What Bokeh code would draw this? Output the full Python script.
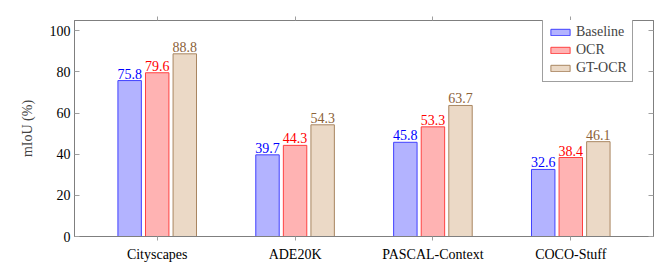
import numpy as np
from bokeh.plotting import figure
from bokeh.models import ColumnDataSource, Range1d, FixedTicker, LinearAxis, Legend, LegendItem
from bokeh.core.properties import value
from bokeh.embed import file_html
from bokeh.resources import INLINE

categories = ["Cityscapes", "ADE20K", "PASCAL-Context", "COCO-Stuff"]
series = ["Baseline", "OCR", "GT-OCR"]
baseline = [75.8, 39.7, 45.8, 32.6]
ocr = [79.6, 44.3, 53.3, 38.4]
gt_ocr = [88.8, 54.3, 63.7, 46.1]
y_ticks = [0, 20, 40, 60, 80, 100]

FONT = "Liberation Serif"
fills = ["#B3B3FF", "#FFB3B3", "#EBD9C6"]
lines = ["#4040FF", "#FF4040", "#A98661"]
texts = ["#0000FF", "#FF0000", "#8C6239"]
offsets = [-0.2, 0.0, 0.2]

p = figure(width=656, height=270, output_backend="svg", toolbar_location=None,
           x_range=Range1d(0.4, 4.6), y_range=Range1d(0, 105),
           min_border_left=74, min_border_right=3, min_border_top=20, min_border_bottom=34)
p.grid.visible = False
p.outline_line_color = "#7f7f7f"
p.outline_line_width = 1

pos = np.arange(1, len(categories) + 1)
items = []
for vals, name, fc, lc, tc, off in zip([baseline, ocr, gt_ocr], series, fills, lines, texts, offsets):
    src = ColumnDataSource(dict(x=pos + off, top=vals, lab=[f"{v:.1f}" for v in vals]))
    r = p.vbar(x="x", top="top", width=0.17, source=src, fill_color=fc, line_color=lc, line_width=1)
    items.append(LegendItem(label=name, renderers=[r]))
    p.text(x="x", y="top", text="lab", source=src, text_align="center", text_baseline="bottom",
           y_offset=-2, text_color=tc, text_font=value(FONT), text_font_size="14px")

xa = p.xaxis[0]
xa.ticker = FixedTicker(ticks=list(pos))
xa.major_label_overrides = {int(i): c for i, c in zip(pos, categories)}
ya = p.yaxis[0]
ya.ticker = FixedTicker(ticks=y_ticks)
ya.axis_label = "mIoU (%)"
for ax in (xa, ya):
    ax.axis_line_color = "#7f7f7f"
    ax.major_tick_line_color = "#9f9f9f"
    ax.minor_tick_line_color = None
    ax.major_label_text_font = FONT
    ax.major_label_text_font_size = "14px"
    ax.major_label_text_color = "black"
ya.axis_label_text_font = FONT
ya.axis_label_text_font_size = "14px"
ya.axis_label_text_font_style = "normal"
ya.axis_label_standoff = 12
xa.major_tick_in = 0
xa.major_tick_out = 4
xa.major_label_standoff = 6
ya.major_tick_in = 5
ya.major_tick_out = 0
ya.major_label_standoff = 4

ra = LinearAxis(ticker=FixedTicker(ticks=y_ticks), major_tick_in=5, major_tick_out=0,
                major_label_overrides={t: "" for t in y_ticks}, major_label_text_font_size="1px",
                axis_line_color="#7f7f7f",
                major_tick_line_color="#9f9f9f", minor_tick_line_color=None, major_label_standoff=0)
p.add_layout(ra, "right")
ta = LinearAxis(ticker=FixedTicker(ticks=list(pos)), major_tick_in=0, major_tick_out=4,
                major_label_overrides={int(t): "" for t in pos}, major_label_text_font_size="1px",
                axis_line_color="#7f7f7f",
                major_tick_line_color="#9f9f9f", minor_tick_line_color=None, major_label_standoff=0)
p.add_layout(ta, "above")

legend = Legend(items=items, location=(468, 154), margin=0, padding=5, spacing=2,
                glyph_width=24, glyph_height=8, label_standoff=4,
                label_text_font=FONT, label_text_font_size="14px", label_height=14,
                border_line_color="#404040", border_line_width=1, background_fill_alpha=1)
p.add_layout(legend, "center")

open("out.html", "w").write(file_html(p, INLINE))
